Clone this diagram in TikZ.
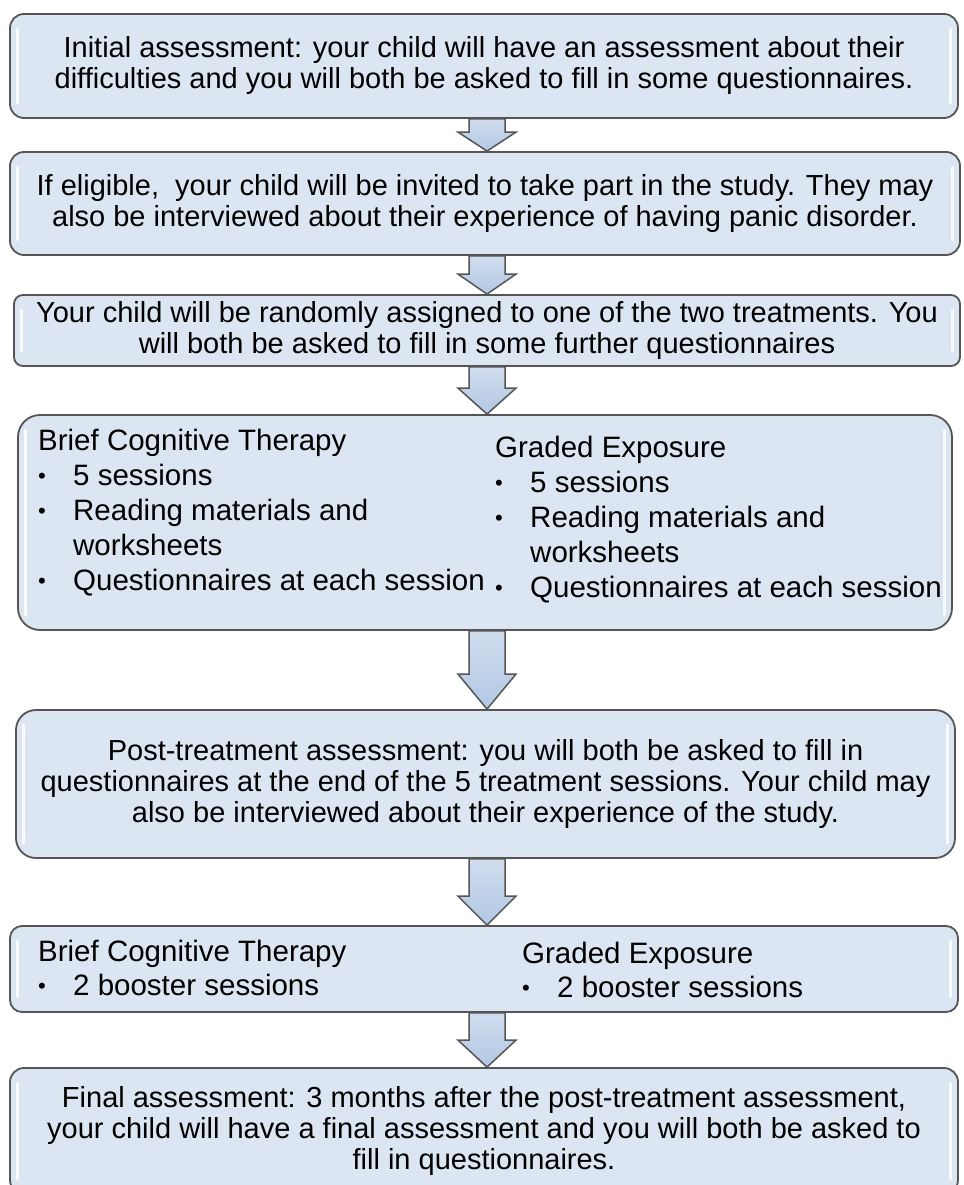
\documentclass[tikz,border=0pt]{standalone}
\usepackage{fontspec}
\setmainfont{Liberation Sans}
\usetikzlibrary{calc}
\definecolor{boxfill}{RGB}{220,230,242}
\definecolor{boxline}{RGB}{85,85,85}
\definecolor{arrtop}{RGB}{208,221,238}
\definecolor{arrbot}{RGB}{178,200,228}
\tikzset{
  stage/.style={draw=boxline, line width=1.8pt, fill=boxfill, rounded corners=14pt,
    inner sep=0pt, align=center, font=\fontsize{29}{31}\selectfont},
  barrow/.style={draw=boxline, line width=1.5pt, line join=miter,
    top color=arrtop, bottom color=arrbot},
  hl/.style={white, line width=3pt, line cap=round, opacity=0.85},
  coltext/.style={anchor=base west, inner sep=0pt, font=\fontsize{29.5}{35}\selectfont},
}
\newcommand{\blockarr}[3]{%
  \path[barrow] let \p1=(#1.south), \p2=(#2.north) in
    (469pt,\y1) -- (505pt,\y1) -- ({505pt},{\y2+#3pt}) -- ({516pt},{\y2+#3pt})
    -- (487pt,\y2) -- ({458pt},{\y2+#3pt}) -- ({469pt},{\y2+#3pt}) -- cycle;}
\newcommand{\smallbul}{\raisebox{2pt}{\scalebox{0.75}{•}}}
\begin{document}
\begin{tikzpicture}[x=1pt,y=-1pt]
\useasboundingbox (0,0) rectangle (963,1185);
\clip (0,0) rectangle (963,1185);
\fill[white] (0,0) rectangle (963,1185);

\node[stage, minimum width=948pt, minimum height=104pt] (b1) at (484,66)
  {Initial assessment: your child will have an assessment about their\\
   difficulties and you will both be asked to fill in some questionnaires.};
\node[stage, minimum width=950pt, minimum height=103pt] (b2) at (485,203.5)
  {If eligible,\ \ your child will be invited to take part in the study. They may\\
   also be interviewed about their experience of having panic disorder.};
\node[stage, rounded corners=9pt, minimum width=946pt, minimum height=71pt] (b3) at (487,330.5)
  {Your child will be randomly assigned to one of the two treatments. You\\
   will both be asked to fill in some further questionnaires};
\node[stage, rounded corners=22pt, minimum width=934pt, minimum height=215pt] (b4) at (485,522.5) {};
\node[coltext] (b4l) at (38,450)
  {\begin{tabular}[t]{@{}p{35pt}@{}l@{}}
   \multicolumn{2}{@{}l@{}}{Brief Cognitive Therapy}\\
   \smallbul&5 sessions\\
   \smallbul&Reading materials and\\
    &worksheets\\
   \smallbul&Questionnaires at each session
   \end{tabular}};
\node[coltext] (b4r) at (495,457)
  {\begin{tabular}[t]{@{}p{35pt}@{}l@{}}
   \multicolumn{2}{@{}l@{}}{Graded Exposure}\\
   \smallbul&5 sessions\\
   \smallbul&Reading materials and\\
    &worksheets\\
   \smallbul&Questionnaires at each session
   \end{tabular}};
\node[stage, rounded corners=20pt, minimum width=939pt, minimum height=148pt] (b5) at (485.5,784)
  {Post-treatment assessment: you will both be asked to fill in\\
   questionnaires at the end of the 5 treatment sessions. Your child may\\
   also be interviewed about their experience of the study.};
\node[stage, rounded corners=12pt, minimum width=948pt, minimum height=86pt] (b6) at (484,969) {};
\node[coltext, font=\fontsize{29.5}{34}\selectfont] (b6l) at (38,961)
  {\begin{tabular}[t]{@{}p{35pt}@{}l@{}}
   \multicolumn{2}{@{}l@{}}{Brief Cognitive Therapy}\\
   \smallbul&2 booster sessions
   \end{tabular}};
\node[coltext, font=\fontsize{29.5}{34}\selectfont] (b6r) at (522,963)
  {\begin{tabular}[t]{@{}p{35pt}@{}l@{}}
   \multicolumn{2}{@{}l@{}}{Graded Exposure}\\
   \smallbul&2 booster sessions
   \end{tabular}};
\node[stage, minimum width=948pt, minimum height=126pt] (b7) at (484,1131)
  {Final assessment: 3 months after the post-treatment assessment,\\
   your child will have a final assessment and you will both be asked to\\
   fill in questionnaires.};

\foreach \n in {b1,b2,b3,b4,b5,b6,b7}{
  \draw[hl] ([xshift=8pt,yshift=-16pt]\n.north west) -- ([xshift=8pt,yshift=16pt]\n.south west);
  \draw[hl] ([xshift=-8pt,yshift=-16pt]\n.north east) -- ([xshift=-8pt,yshift=16pt]\n.south east);
}

\blockarr{b1}{b2}{19}
\blockarr{b2}{b3}{20}
\blockarr{b3}{b4}{26}
\blockarr{b4}{b5}{35}
\blockarr{b5}{b6}{29}
\blockarr{b6}{b7}{27}
\end{tikzpicture}
\end{document}
